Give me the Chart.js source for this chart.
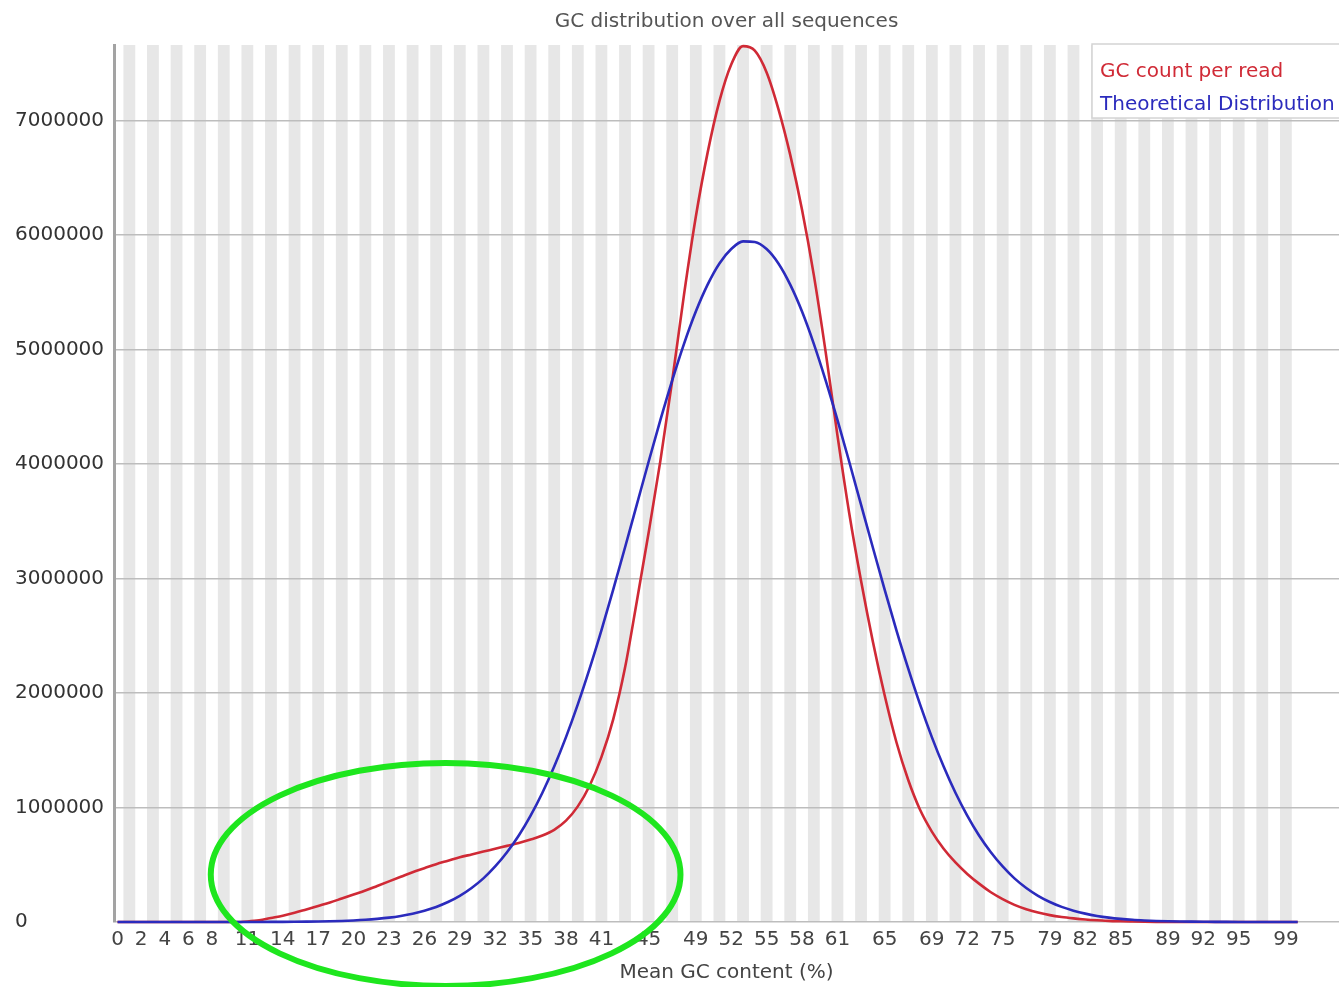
<!DOCTYPE html>
<html>
<head>
<meta charset="utf-8">
<title>GC distribution over all sequences</title>
<script src="https://cdn.jsdelivr.net/npm/chart.js@4.4.1/dist/chart.umd.min.js"></script>
<style>
  html, body { margin: 0; padding: 0; background: #fff; }
  #wrap { width: 1339px; height: 987px; }
</style>
</head>
<body>
<div id="wrap"><canvas id="gcChart" width="1339" height="987"></canvas></div>
<script>
// mean GC content (%) categories
var gcPercent = [
  0, 1, 2, 3, 4, 5, 6, 7, 8, 9, 10, 11, 12, 13, 14, 15, 16, 17, 18, 19,
  20, 21, 22, 23, 24, 25, 26, 27, 28, 29, 30, 31, 32, 33, 34, 35, 36, 37, 38, 39,
  40, 41, 42, 43, 44, 45, 46, 47, 48, 49, 50, 51, 52, 53, 54, 55, 56, 57, 58, 59,
  60, 61, 62, 63, 64, 65, 66, 67, 68, 69, 70, 71, 72, 73, 74, 75, 76, 77, 78, 79,
  80, 81, 82, 83, 84, 85, 86, 87, 88, 89, 90, 91, 92, 93, 94, 95, 96, 97, 98, 99, 100
];

// GC count per read (red)
var gcCountPerRead = [
  0, 0, 0, 0, 0, 0, 0, 0, 0, 0,
  0, 5000, 15000, 35000, 55000, 80000, 110000, 140000, 170000, 205000,
  240000, 275000, 315000, 355000, 395000, 435000, 470000, 505000, 535000, 565000,
  590000, 615000, 640000, 665000, 690000, 720000, 755000, 805000, 885000, 1010000,
  1190000, 1440000, 1770000, 2220000, 2800000, 3400000, 4030000, 4730000, 5480000, 6160000,
  6720000, 7170000, 7490000, 7650000, 7610000, 7420000, 7100000, 6700000, 6220000, 5650000,
  4980000, 4250000, 3570000, 2980000, 2450000, 1980000, 1570000, 1240000, 980000, 790000,
  640000, 520000, 420000, 335000, 260000, 200000, 150000, 112000, 82000, 60000,
  44000, 32000, 22000, 15000, 10000, 6000, 4000, 2500, 1500, 1000,
  500, 0, 0, 0, 0, 0, 0, 0, 0, 0, 0
];

// Theoretical distribution (blue)
var theoreticalDist = [
  0, 0, 0, 0, 0, 0, 0, 0, 0, 0,
  200, 300, 500, 800, 1200, 1900, 2900, 4300, 6400, 9300,
  13500, 19300, 27400, 38100, 53000, 72500, 98600, 131700, 174500, 228700,
  297300, 381000, 485000, 609000, 755000, 929000, 1129000, 1358000, 1615000, 1901000,
  2213000, 2548000, 2903000, 3271000, 3645000, 4020000, 4385000, 4731000, 5050000, 5332000,
  5567000, 5752000, 5878000, 5945000, 5940000, 5878000, 5752000, 5567000, 5332000, 5050000,
  4731000, 4385000, 4020000, 3645000, 3271000, 2903000, 2548000, 2213000, 1901000, 1615000,
  1358000, 1129000, 929000, 755000, 609000, 485000, 381000, 297000, 229000, 175000,
  132000, 99000, 73000, 53000, 38000, 27000, 19000, 13500, 9300, 6400,
  4300, 2900, 1900, 1200, 800, 500, 300, 200, 100, 100, 0
];

var seriesNames = ["GC count per read", "Theoretical Distribution"];
var xTickValues = [0, 2, 4, 6, 8, 11, 14, 17, 20, 23, 26, 29, 32, 35, 38, 41, 45,
  49, 52, 55, 58, 61, 65, 69, 72, 75, 79, 82, 85, 89, 92, 95, 99];
var yTickValues = [0, 1000000, 2000000, 3000000, 4000000, 5000000, 6000000, 7000000];

// green ring drawn over the low-GC shoulder (in data units)
var highlight = { gc: 27.8, count: 415000, halfGc: 19.9, halfCount: 974000 };

var FONT = "'DejaVu Sans', 'Liberation Sans', sans-serif";
var lineColors = ["#d02a36", "#2b2bbd"];

// alternating grey columns, one per GC category
var bandsPlugin = {
  id: "bands",
  beforeDraw: function (chart) {
    var c = chart.ctx, area = chart.chartArea, xs = chart.scales.x;
    c.save();
    c.fillStyle = "#e7e7e7";
    gcPercent.forEach(function (v) {
      if (v % 2 === 1) {
        var x0 = xs.getPixelForValue(v - 0.5);
        var x1 = xs.getPixelForValue(v + 0.5);
        c.fillRect(x0, area.top, x1 - x0, area.bottom - area.top);
      }
    });
    c.restore();
  }
};

// boxed legend in the top right corner, text only
var boxLegendPlugin = {
  id: "boxLegend",
  afterDraw: function (chart) {
    var c = chart.ctx, area = chart.chartArea;
    var left = area.right - 247, top = area.top - 1;
    c.save();
    c.fillStyle = "#fff";
    c.fillRect(left, top, 260, 74);
    c.strokeStyle = "#d4d4d4";
    c.lineWidth = 1.5;
    c.strokeRect(left, top, 260, 74);
    c.font = "20px " + FONT;
    c.textBaseline = "middle";
    c.textAlign = "left";
    chart.data.datasets.forEach(function (ds, i) {
      c.fillStyle = ds.borderColor;
      c.fillText(ds.label, left + 8, top + 28 + i * 33);
    });
    c.restore();
  }
};

var ringPlugin = {
  id: "ring",
  afterDraw: function (chart) {
    var c = chart.ctx, xs = chart.scales.x, ys = chart.scales.y;
    var cx = xs.getPixelForValue(highlight.gc);
    var cy = ys.getPixelForValue(highlight.count);
    var rx = xs.getPixelForValue(highlight.gc + highlight.halfGc) - cx;
    var ry = cy - ys.getPixelForValue(highlight.count + highlight.halfCount);
    c.save();
    c.strokeStyle = "#1ee61e";
    c.lineWidth = 6;
    c.beginPath();
    c.ellipse(cx, cy, rx, ry, 0, 0, Math.PI * 2);
    c.stroke();
    c.restore();
  }
};

var ctx = document.getElementById("gcChart").getContext("2d");
new Chart(ctx, {
  type: "line",
  data: {
    labels: gcPercent,
    datasets: [
      {
        label: seriesNames[0],
        data: gcCountPerRead,
        borderColor: lineColors[0],
        borderWidth: 2.6,
        pointRadius: 0,
        cubicInterpolationMode: "monotone",
        fill: false,
        order: 1,
        clip: 6
      },
      {
        label: seriesNames[1],
        data: theoreticalDist,
        borderColor: lineColors[1],
        borderWidth: 2.6,
        pointRadius: 0,
        cubicInterpolationMode: "monotone",
        fill: false,
        order: 0,
        clip: 6
      }
    ]
  },
  options: {
    responsive: false,
    animation: false,
    events: [],
    layout: { padding: { left: 15, right: 0, top: 0, bottom: 0 } },
    plugins: {
      legend: { display: false },
      tooltip: { enabled: false },
      title: {
        display: true,
        text: "GC distribution over all sequences",
        fullSize: false,
        color: "#555",
        font: { family: FONT, size: 20, weight: "normal" },
        padding: { top: 10, bottom: 11 }
      }
    },
    scales: {
      x: {
        type: "linear",
        min: -0.3,
        max: 103.5,
        afterBuildTicks: function (s) {
          s.ticks = xTickValues.map(function (v) { return { value: v }; });
        },
        grid: { display: false, drawTicks: false },
        border: { display: false },
        ticks: {
          autoSkip: false,
          maxRotation: 0,
          padding: 6,
          color: "#444",
          font: { family: FONT, size: 20 },
          callback: function (v) { return String(v); }
        },
        title: {
          display: true,
          text: "Mean GC content (%)",
          color: "#444",
          font: { family: FONT, size: 20 },
          padding: { top: 3, bottom: 2 }
        }
      },
      y: {
        min: 0,
        max: 7660000,
        afterBuildTicks: function (s) {
          s.ticks = yTickValues.map(function (v) { return { value: v }; });
        },
        afterFit: function (s) { s.width = 99; },
        grid: { color: "#bdbdbd", lineWidth: 1.5, drawTicks: false },
        border: { color: "#a3a3a3", width: 3 },
        ticks: {
          crossAlign: "far",
          padding: 10,
          color: "#333",
          font: { family: FONT, size: 20 },
          callback: function (v) { return String(v); }
        }
      }
    }
  },
  plugins: [bandsPlugin, boxLegendPlugin, ringPlugin]
});
</script>
</body>
</html>
